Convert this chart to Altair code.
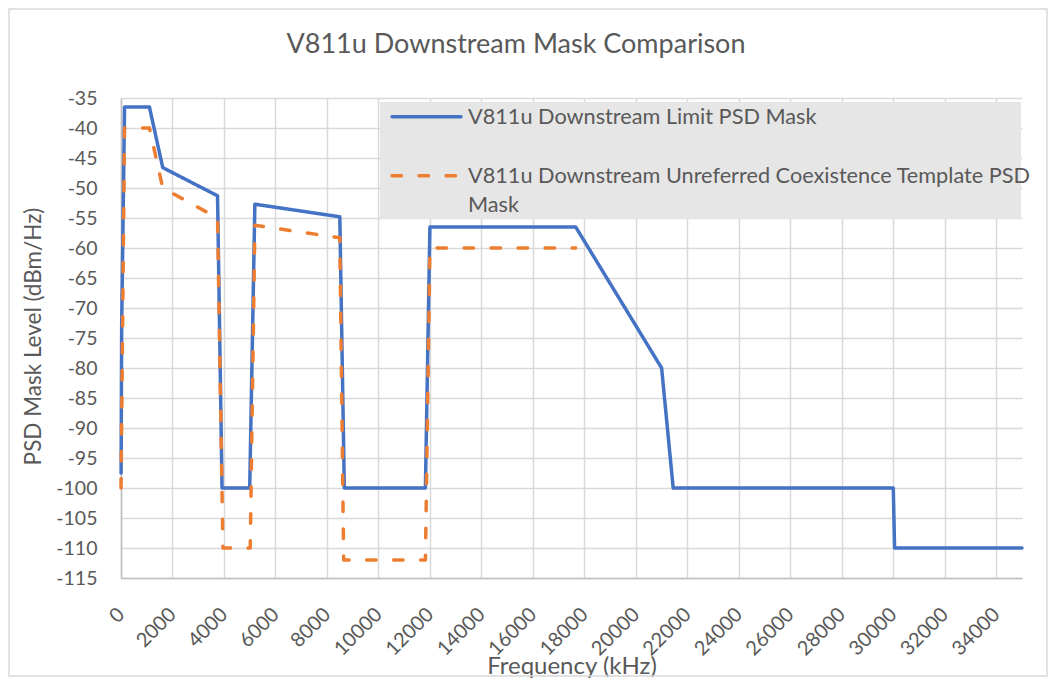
import altair as alt
import pandas as pd

# ---------------- data ----------------
series_names = [
    "V811u Downstream Limit PSD Mask",
    "V811u Downstream Unreferred Coexistence Template PSD Mask",
]
series_colors = ["#4472C4", "#ED7D31"]

limit_freq = [0, 4, 26, 138, 1104, 1622, 3750, 3925, 5000, 5200, 8500, 8675,
              11825, 12000, 17664, 21000, 21450, 30000, 30050, 35000]
limit_psd = [-97.5, -97.5, -73, -36.5, -36.5, -46.6, -51.3, -100, -100, -52.7,
             -54.8, -100, -100, -56.5, -56.5, -80, -100, -100, -110, -110]

coex_freq = [0, 138, 1104, 1622, 3750, 3960, 5020, 5200, 8500, 8650, 11825,
             12000, 17664]
coex_psd = [-100, -40, -40, -50, -55, -110, -110, -56.2, -58.3, -112, -112,
            -60, -60]

x_ticks = [0, 2000, 4000, 6000, 8000, 10000, 12000, 14000, 16000, 18000,
           20000, 22000, 24000, 26000, 28000, 30000, 32000, 34000]
y_ticks = [-115, -110, -105, -100, -95, -90, -85, -80, -75, -70, -65, -60,
           -55, -50, -45, -40, -35]

title_text = "V811u Downstream Mask Comparison"
x_title = "Frequency (kHz)"
y_title = "PSD Mask Level (dBm/Hz)"

# ---------------- tables ----------------
rows = []
for i, (f, p) in enumerate(zip(limit_freq, limit_psd)):
    rows.append({"series": series_names[0], "freq": f, "psd": p, "idx": i})
for i, (f, p) in enumerate(zip(coex_freq, coex_psd)):
    rows.append({"series": series_names[1], "freq": f, "psd": p, "idx": i})
df = pd.DataFrame(rows)
one = pd.DataFrame({"k": [0]})

W, H = 901, 480
FONT = "Lato"
TXT = "#595959"
GRID = "#d9d9d9"
LW = 3.5
DASH = [9.5, 17.5]

x_scale = alt.Scale(domain=[0, 35000], nice=False, zero=False)
y_scale = alt.Scale(domain=[-115, -35], nice=False, zero=False)

lines = alt.Chart(df).mark_line(
    strokeWidth=LW, strokeJoin="round", strokeCap="round"
).encode(
    x=alt.X(
        "freq:Q", scale=x_scale,
        axis=alt.Axis(
            values=x_ticks, format="d", labelAngle=-45, labelAlign="right",
            labelBaseline="middle", labelPadding=33, tickSize=0,
            labelFlush=False, labelOverlap=False,
            grid=True, gridColor=GRID, gridWidth=1.5,
            domainColor="#bfbfbf", domainWidth=1.5,
            labelFont=FONT, labelFontSize=20, labelColor=TXT,
            title=x_title, titleFont=FONT, titleFontSize=24,
            titleFontWeight="normal", titleColor=TXT,
            titleX=W / 2, titleY=88, titleAlign="center",
            titleBaseline="middle",
        ),
    ),
    y=alt.Y(
        "psd:Q", scale=y_scale,
        axis=alt.Axis(
            values=y_ticks, labelExpr="toString(datum.value)",
            labelPadding=24, tickSize=0, labelFlush=False, labelOverlap=False,
            grid=True, gridColor=GRID, gridWidth=1.5,
            domainColor="#bfbfbf", domainWidth=1.5,
            labelFont=FONT, labelFontSize=19.5, labelColor=TXT,
            title=y_title, titleFont=FONT, titleFontSize=22.5,
            titleFontWeight="normal", titleColor=TXT,
            titleX=-88, titleY=H / 2 - 2, titleAngle=270, titleAlign="center",
            titleBaseline="middle",
        ),
    ),
    color=alt.Color("series:N",
                    scale=alt.Scale(domain=series_names, range=series_colors),
                    legend=None),
    strokeDash=alt.StrokeDash("series:N",
                              scale=alt.Scale(domain=series_names,
                                              range=[[1, 0], DASH]),
                              legend=None),
    order="idx:Q",
)

# outer chart border
border = alt.Chart(one).mark_rect(
    fill=None, stroke="#d9d9d9", strokeWidth=1.5
).encode(
    x=alt.value(-112), x2=alt.value(926), y=alt.value(-89), y2=alt.value(578)
)

# title
title = alt.Chart(one).mark_text(
    font=FONT, fontSize=27, color=TXT, align="center", baseline="middle"
).encode(x=alt.value(395), y=alt.value(-53), text=alt.value(title_text))

# custom legend
leg_bg = alt.Chart(one).mark_rect(fill="#e6e6e6").encode(
    x=alt.value(259), x2=alt.value(900), y=alt.value(4), y2=alt.value(121)
)
leg_s1 = alt.Chart(one).mark_rule(
    color=series_colors[0], strokeWidth=LW, strokeCap="round"
).encode(x=alt.value(271), x2=alt.value(340), y=alt.value(18.7))
leg_s2 = alt.Chart(one).mark_rule(
    color=series_colors[1], strokeWidth=LW, strokeCap="round",
    strokeDash=DASH
).encode(x=alt.value(271), x2=alt.value(340), y=alt.value(77.7))

words2 = series_names[1].split(" ")
line2a = " ".join(words2[:-1])
line2b = words2[-1]


def leg_text(txt, y):
    return alt.Chart(one).mark_text(
        font=FONT, fontSize=21.7, color=TXT, align="left", baseline="middle"
    ).encode(x=alt.value(347), y=alt.value(y), text=alt.value(txt))


legend = leg_text(series_names[0], 18.7) + leg_text(line2a, 77.7) + leg_text(line2b, 107)

chart = alt.layer(
    border, leg_bg, lines, leg_s1, leg_s2, legend, title
).properties(
    width=W, height=H,
    autosize=alt.AutoSizeParams(type="none"),
    padding={"left": 113, "top": 90, "right": 26, "bottom": 100},
).configure(font=FONT).configure_view(stroke=None)

chart.save("out.html", embed_options={"renderer": "svg", "actions": False})
